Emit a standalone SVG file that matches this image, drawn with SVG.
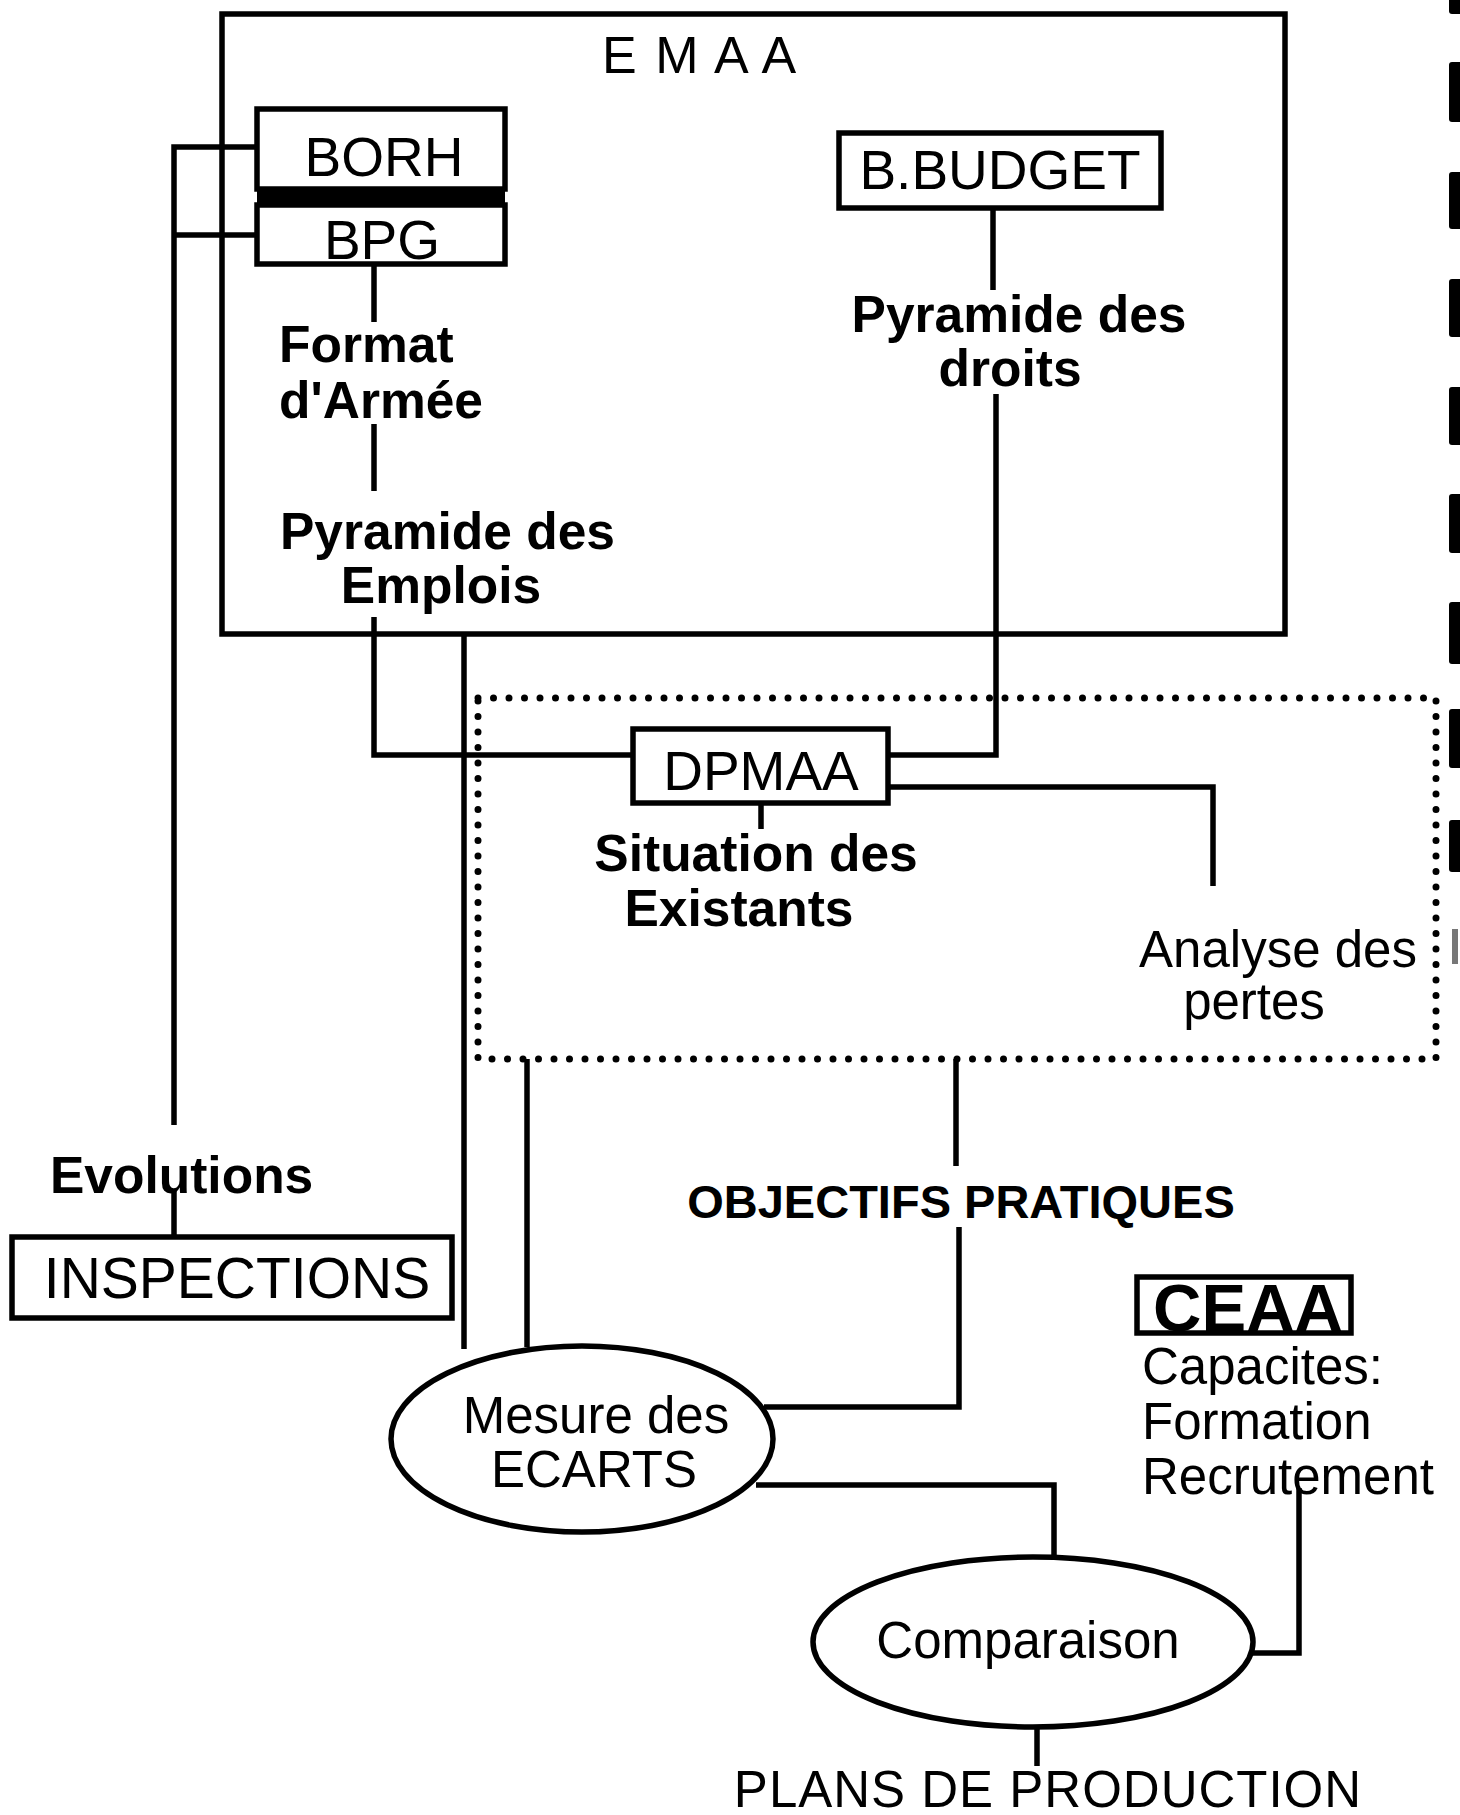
<svg xmlns="http://www.w3.org/2000/svg" width="1460" height="1815" viewBox="0 0 1460 1815">
<style>
.box{fill:none;stroke:#000;stroke-width:5.5}
.ell{fill:none;stroke:#000;stroke-width:5.5}
.ln{fill:none;stroke:#000;stroke-width:5.5;stroke-linejoin:miter}
.dot{fill:none;stroke:#000;stroke-width:7;stroke-linecap:round;stroke-dasharray:0 15.5}
.t{font-family:"Liberation Sans",Arial,sans-serif;fill:#000}
.r{font-size:55px}
.m{font-size:51px}
.b{font-size:51.5px;font-weight:bold}
.bar{fill:#000}
</style>
<rect width="1460" height="1815" fill="#fff"/>
<g id="emaa">
<rect class="box" x="222" y="14" width="1063" height="620"/>
<text class="t" x="602" y="73" font-size="52" letter-spacing="2">E M A A</text>
</g>
<g id="dpmaa-zone">
<rect class="dot" x="478" y="698" width="958" height="361"/>
</g>
<g id="connectors">
<path class="ln" d="M257,147 H174 V1125"/>
<path class="ln" d="M174,235 H257"/>
<path class="ln" d="M374,264 V322"/>
<path class="ln" d="M374,424 V491"/>
<path class="ln" d="M374,617 V755 H633"/>
<path class="ln" d="M464,634 V1349"/>
<path class="ln" d="M993,208 V290"/>
<path class="ln" d="M996,394 V755 H888"/>
<path class="ln" d="M888,787 H1213 V886"/>
<path class="ln" d="M761,803 V829"/>
<path class="ln" d="M527,1059 V1347"/>
<path class="ln" d="M956,1059 V1166"/>
<path class="ln" d="M959,1227 V1407 H764"/>
<path class="ln" d="M174,1190 V1237"/>
<path class="ln" d="M756,1485 H1054 V1557"/>
<path class="ln" d="M1252,1653 H1299 V1488"/>
<path class="ln" d="M1037,1727 V1766"/>
</g>
<g id="borh">
<rect class="box" x="257" y="109" width="248" height="80"/>
<rect x="257" y="187" width="248" height="20" fill="#000"/>
<text class="t r" x="384" y="176" text-anchor="middle">BORH</text>
</g>
<g id="bpg">
<rect class="box" x="257" y="205" width="248" height="59"/>
<text class="t r" x="382" y="259" text-anchor="middle">BPG</text>
</g>
<g id="format">
<text class="t b" x="279" y="362">Format</text>
<text class="t b" x="279" y="418">d'Armée</text>
</g>
<g id="pyr-emplois">
<text class="t b" x="280" y="549">Pyramide des</text>
<text class="t b" x="441" y="603" text-anchor="middle">Emplois</text>
</g>
<g id="bbudget">
<rect class="box" x="839" y="133" width="322" height="75"/>
<text class="t r" x="1000" y="189" text-anchor="middle">B.BUDGET</text>
</g>
<g id="pyr-droits">
<text class="t b" x="1019" y="332" text-anchor="middle">Pyramide des</text>
<text class="t b" x="1010" y="386" text-anchor="middle">droits</text>
</g>
<g id="dpmaa">
<rect class="box" x="633" y="729" width="255" height="74"/>
<text class="t r" x="761" y="790" text-anchor="middle">DPMAA</text>
</g>
<g id="situation">
<text class="t b" x="756" y="871" text-anchor="middle">Situation des</text>
<text class="t b" x="739" y="926" text-anchor="middle">Existants</text>
</g>
<g id="analyse">
<text class="t m" x="1278" y="967" text-anchor="middle">Analyse des</text>
<text class="t m" x="1254" y="1019" text-anchor="middle">pertes</text>
</g>
<g id="objectifs">
<text class="t" x="961" y="1218" text-anchor="middle" font-size="47" font-weight="bold">OBJECTIFS PRATIQUES</text>
</g>
<g id="evolutions">
<text class="t b" x="50" y="1193" font-size="55">Evolutions</text>
</g>
<g id="inspections">
<rect class="box" x="12" y="1237" width="440" height="81"/>
<text class="t" x="237" y="1298" text-anchor="middle" font-size="57">INSPECTIONS</text>
</g>
<g id="mesure">
<ellipse class="ell" cx="582" cy="1439" rx="191" ry="93"/>
<text class="t m" x="596" y="1433" text-anchor="middle">Mesure des</text>
<text class="t m" x="594" y="1487" text-anchor="middle">ECARTS</text>
</g>
<g id="ceaa">
<rect class="box" x="1137" y="1277" width="214" height="56"/>
<text class="t" x="1248" y="1331" text-anchor="middle" font-size="67" font-weight="bold">CEAA</text>
<text class="t m" x="1142" y="1384">Capacites:</text>
<text class="t m" x="1142" y="1439">Formation</text>
<text class="t m" x="1142" y="1494">Recrutement</text>
</g>
<g id="comparaison">
<ellipse class="ell" cx="1033" cy="1642" rx="220" ry="85"/>
<text class="t m" x="1028" y="1658" text-anchor="middle">Comparaison</text>
</g>
<g id="plans">
<text class="t m" x="1048" y="1807" text-anchor="middle" letter-spacing="1">PLANS DE PRODUCTION</text>
</g>
<g id="edge-marks">
<rect class="bar" x="1449" y="-4" width="13" height="18" rx="3"/>
<rect class="bar" x="1449" y="62" width="13" height="60" rx="3"/>
<rect class="bar" x="1449" y="172" width="13" height="57" rx="3"/>
<rect class="bar" x="1449" y="279" width="13" height="58" rx="3"/>
<rect class="bar" x="1449" y="387" width="13" height="58" rx="3"/>
<rect class="bar" x="1449" y="494" width="13" height="59" rx="3"/>
<rect class="bar" x="1449" y="602" width="13" height="62" rx="3"/>
<rect class="bar" x="1449" y="709" width="13" height="59" rx="3"/>
<rect class="bar" x="1449" y="820" width="13" height="52" rx="3"/>
<rect x="1452" y="929" width="6" height="35" fill="#777"/>
</g>
</svg>
